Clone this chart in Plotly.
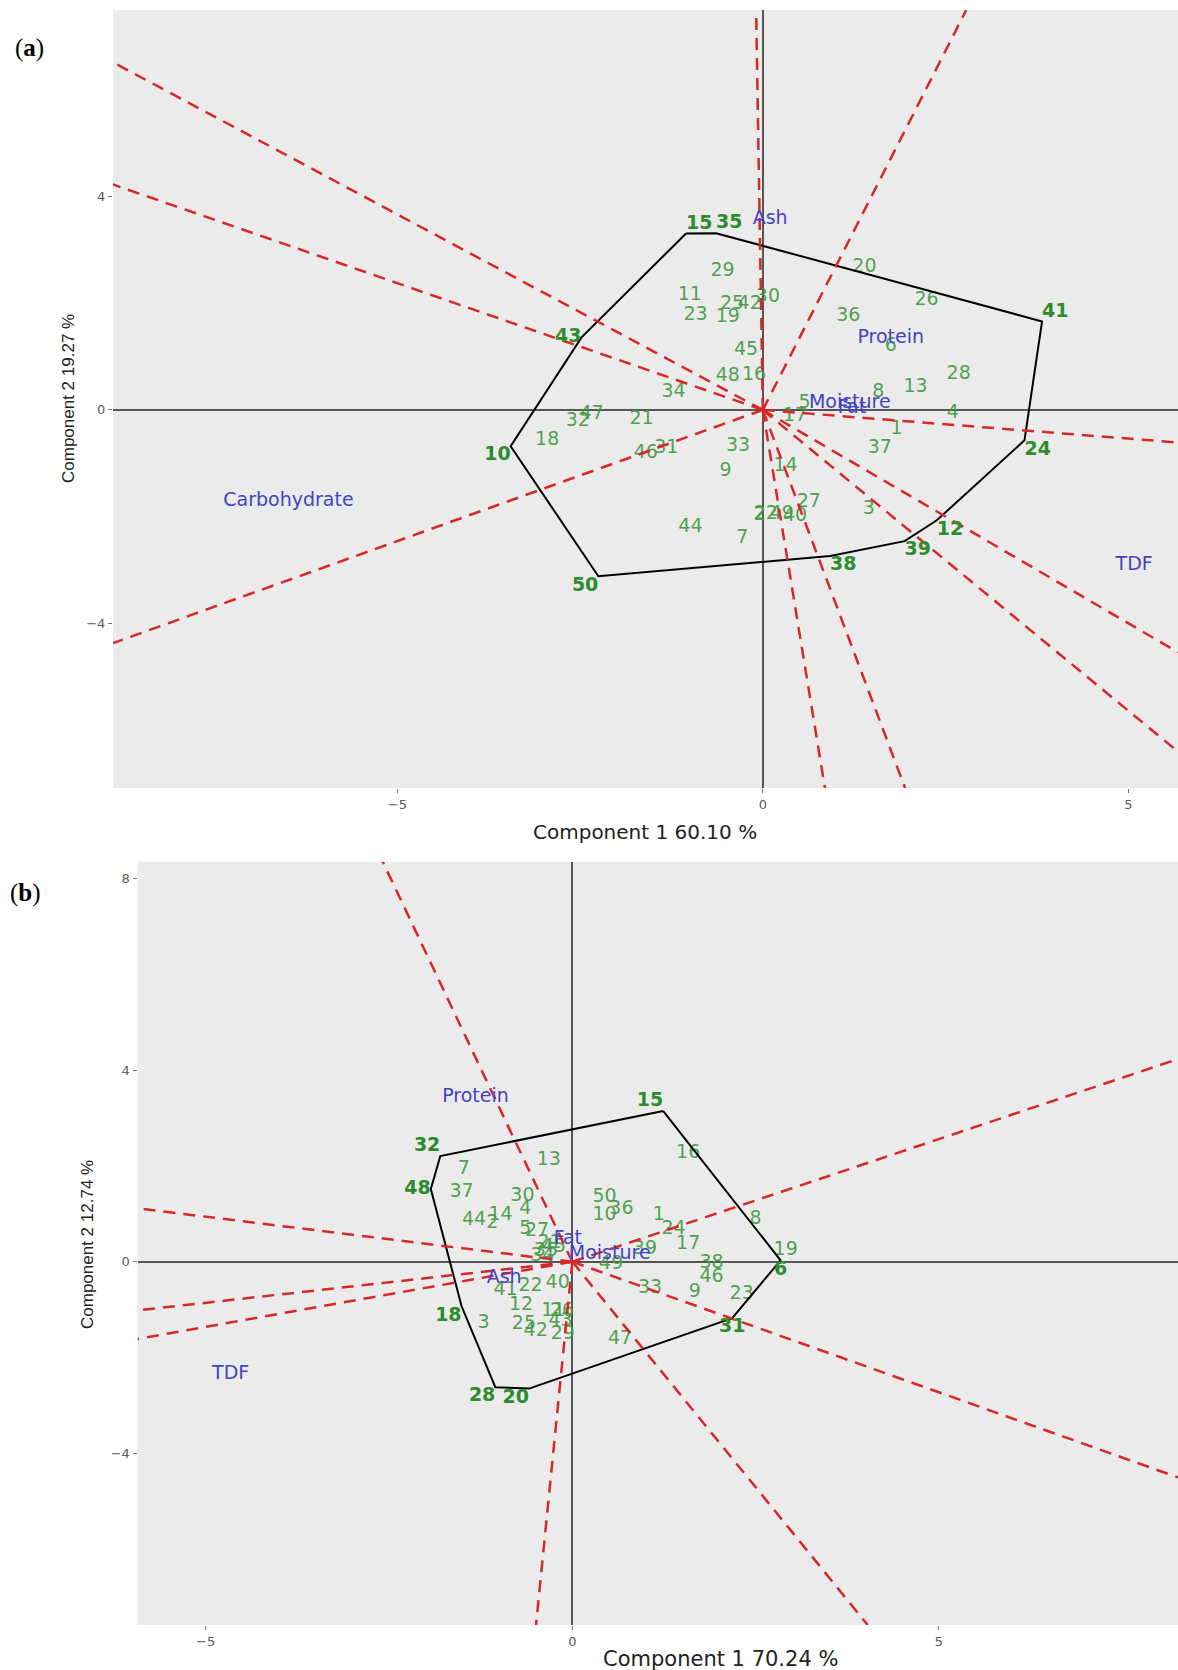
import numpy as np
import plotly.graph_objects as go

# ---------------- Panel (a) data ----------------
a_geno = [str(i) for i in range(1, 51)]
a_pc1 = [1.83, -0.04, 1.45, 2.60, 0.57, 1.75, -0.28, 1.58, -0.51, -3.45,
         -1.00, 2.38, 2.09, 0.31, -1.05, -0.12, 0.44, -2.95, -0.48, 1.39,
         -1.66, 0.04, -0.92, 3.58, -0.42, 2.24, 0.63, 2.68, -0.55, 0.07,
         -1.32, -2.53, -0.34, -1.22, -0.64, 1.17, 1.60, 0.92, 1.94, 0.44,
         3.82, -0.18, -2.48, -0.99, -0.23, -1.60, -2.34, -0.48, 0.26, -2.25]
a_pc2 = [-0.36, -1.97, -1.87, -0.07, 0.13, 1.20, -2.40, 0.34, -1.15, -0.68,
         2.16, -2.07, 0.43, -1.06, 3.31, 0.65, -0.12, -0.57, 1.73, 2.67,
         -0.18, -1.96, 1.77, -0.57, 1.98, 2.06, -1.74, 0.66, 2.61, 2.11,
         -0.71, -0.21, -0.69, 0.33, 3.315, 1.75, -0.71, -2.74, -2.46, -2.00,
         1.66, 1.98, 1.36, -2.20, 1.12, -0.82, -0.08, 0.63, -1.96, -3.12]
a_hull = ["15", "35", "41", "24", "12", "39", "38", "50", "10", "43"]
a_traits = ["Ash", "Protein", "Moisture", "Fat", "Carbohydrate", "TDF"]
a_trait_pc1 = [0.10, 1.75, 1.19, 1.22, -6.49, 5.08]
a_trait_pc2 = [3.58, 1.34, 0.13, 0.03, -1.72, -2.91]
a_xtitle = "Component 1 60.10 %"
a_ytitle = "Component 2 19.27 %"
a_xticks = [-5, 0, 5]
a_yticks = [-4, 0, 4]

# ---------------- Panel (b) data ----------------
b_geno = [str(i) for i in range(1, 51)]
b_pc1 = [1.18, -1.09, -1.21, -0.64, -0.64, 2.84, -1.48, 2.50, 1.67, 0.44,
         -0.26, -0.70, -0.32, -0.98, 1.24, 1.58, 1.58, -1.51, 2.91, -0.59,
         -0.31, -0.57, 2.31, 1.38, -0.66, -0.14, -0.48, -1.05, -0.13, -0.68,
         2.18, -1.80, 1.06, -0.41, -0.36, 0.67, -1.51, 1.90, 0.99, -0.20,
         -0.91, -0.50, -0.16, -1.34, -0.25, 1.90, 0.65, -1.93, 0.53, 0.44]
b_pc2 = [0.97, 0.81, -1.28, 1.09, 0.67, 0.03, 1.94, 0.88, -0.64, 0.97,
         -1.04, -0.90, 2.13, 0.97, 3.15, 2.26, 0.37, -0.93, 0.25, -2.65,
         0.39, -0.52, -0.67, 0.67, -1.30, -1.04, 0.63, -2.62, -1.52, 1.36,
         -1.18, 2.21, -0.55, 0.11, 0.22, 1.09, 1.45, -0.03, 0.27, -0.45,
         -0.59, -1.46, -1.25, 0.86, 0.30, -0.33, -1.61, 1.52, -0.06, 1.34]
b_hull = ["15", "6", "31", "20", "28", "18", "48", "32"]
b_traits = ["Protein", "Fat", "Moisture", "Ash", "TDF"]
b_trait_pc1 = [-1.32, -0.06, 0.51, -0.93, -4.66]
b_trait_pc2 = [3.43, 0.47, 0.15, -0.34, -2.36]
b_xtitle = "Component 1 70.24 %"
b_ytitle = "Component 2 12.74 %"
b_xticks = [-5, 0, 5]
b_yticks = [-4, 0, 4, 8]

# ---------------- style ----------------
W, H = 1178, 1670
BG = "#EBEBEB"
GREEN = "rgba(70,155,70,0.95)"
GREEN_B = "#2E8B2E"
BLUE = "#4343C6"
RED = "#D62828"
LABEL_FONT = "DejaVu Sans"

a_xrange = [-8.89, 5.68]
a_yrange = [-7.09, 7.50]
b_xrange = [-5.93, 8.26]
b_yrange = [-7.59, 8.36]

a_vpos = {"15": "top right", "35": "top right", "41": "top right", "24": "bottom right",
          "12": "bottom right", "39": "bottom right", "38": "bottom right",
          "50": "bottom left", "10": "bottom left", "43": "middle left"}
b_vpos = {"15": "top left", "6": "bottom center", "31": "bottom center", "20": "bottom left",
          "28": "bottom left", "18": "bottom left", "48": "middle left", "32": "top left"}


def rays(hx, hy, xr, yr):
    """Perpendiculars from the origin to every polygon side, extended to the panel edge."""
    out = []
    n = len(hx)
    for i in range(n):
        A = np.array([hx[i], hy[i]])
        B = np.array([hx[(i + 1) % n], hy[(i + 1) % n]])
        d = B - A
        t = -A.dot(d) / d.dot(d)
        F = A + t * d
        u = F / np.linalg.norm(F)
        s = []
        for comp, lo, hi in ((u[0], xr[0], xr[1]), (u[1], yr[0], yr[1])):
            if comp > 1e-12:
                s.append(hi / comp)
            elif comp < -1e-12:
                s.append(lo / comp)
        L = min(s)
        out.append((u[0] * L, u[1] * L))
    return out


fig = go.Figure()


def add_panel(geno, pc1, pc2, hull, vpos, traits, tx, ty, xr, yr, xa, ya):
    idx = {g: i for i, g in enumerate(geno)}
    hx = [pc1[idx[g]] for g in hull]
    hy = [pc2[idx[g]] for g in hull]
    normal = [i for i, g in enumerate(geno) if g not in hull]
    fig.add_trace(go.Scatter(
        x=[pc1[i] for i in normal], y=[pc2[i] for i in normal],
        text=[geno[i] for i in normal], mode="text", textposition="middle center",
        textfont=dict(family=LABEL_FONT, size=19, color=GREEN),
        xaxis=xa, yaxis=ya, showlegend=False, hoverinfo="skip"))
    fig.add_trace(go.Scatter(
        x=hx + [hx[0]], y=hy + [hy[0]], mode="lines",
        line=dict(color="black", width=2), xaxis=xa, yaxis=ya,
        showlegend=False, hoverinfo="skip"))
    for ex, ey in rays(hx, hy, xr, yr):
        fig.add_trace(go.Scatter(
            x=[0, ex], y=[0, ey], mode="lines",
            line=dict(color=RED, width=2.5, dash="12px,8px"),
            xaxis=xa, yaxis=ya, showlegend=False, hoverinfo="skip"))
    fig.add_trace(go.Scatter(
        x=hx, y=hy, text=[f"<b>{g}</b>" for g in hull], mode="text",
        textposition=[vpos[g] for g in hull],
        textfont=dict(family=LABEL_FONT, size=19, color=GREEN_B),
        xaxis=xa, yaxis=ya, showlegend=False, hoverinfo="skip"))
    fig.add_trace(go.Scatter(
        x=tx, y=ty, text=traits, mode="text", textposition="middle center",
        textfont=dict(family=LABEL_FONT, size=19, color=BLUE),
        xaxis=xa, yaxis=ya, showlegend=False, hoverinfo="skip"))


add_panel(a_geno, a_pc1, a_pc2, a_hull, a_vpos, a_traits, a_trait_pc1, a_trait_pc2,
          a_xrange, a_yrange, "x", "y")
add_panel(b_geno, b_pc1, b_pc2, b_hull, b_vpos, b_traits, b_trait_pc1, b_trait_pc2,
          b_xrange, b_yrange, "x2", "y2")

tickfont = dict(family=LABEL_FONT, size=13, color="#5a5a5a")
common = dict(showgrid=False, zeroline=True, zerolinecolor="#555555", zerolinewidth=2,
              ticks="outside", ticklen=4, tickcolor="#777777", tickwidth=1,
              tickfont=tickfont, showline=False, automargin=False)

fig.update_layout(
    width=W, height=H, margin=dict(l=0, r=0, t=0, b=0),
    paper_bgcolor="white", plot_bgcolor=BG,
    xaxis=dict(domain=[113 / W, 1], range=a_xrange, anchor="y", tickvals=a_xticks, **common),
    yaxis=dict(domain=[1 - 788 / H, 1 - 10 / H], range=a_yrange, anchor="x", tickvals=a_yticks, **common),
    xaxis2=dict(domain=[137.5 / W, 1], range=b_xrange, anchor="y2", tickvals=b_xticks, **common),
    yaxis2=dict(domain=[1 - 1625 / H, 1 - 861.7 / H], range=b_yrange, anchor="x2", tickvals=b_yticks, **common),
)

title_font = dict(family=LABEL_FONT, size=20, color="#222222")
ytitle_font = dict(family="Liberation Sans", size=17, color="#222222")
ann = [
    dict(text=a_xtitle, x=645 / W, y=1 - 832 / H, xref="paper", yref="paper",
         showarrow=False, font=title_font, xanchor="center", yanchor="middle"),
    dict(text=a_ytitle, x=68 / W, y=1 - 399 / H, xref="paper", yref="paper", textangle=-90,
         showarrow=False, font=ytitle_font, xanchor="center", yanchor="middle"),
    dict(text=b_xtitle, x=720 / W, y=1 - 1659 / H, xref="paper", yref="paper",
         showarrow=False, font=dict(family=LABEL_FONT, size=21, color="#222222"),
         xanchor="center", yanchor="middle"),
    dict(text=b_ytitle, x=87 / W, y=1 - 1245 / H, xref="paper", yref="paper", textangle=-90,
         showarrow=False, font=ytitle_font, xanchor="center", yanchor="middle"),
    dict(text="(<b>a</b>)", x=29 / W, y=1 - 48 / H, xref="paper", yref="paper",
         xanchor="center", yanchor="middle",
         showarrow=False, font=dict(family="Liberation Serif", size=25, color="black")),
    dict(text="(<b>b</b>)", x=25 / W, y=1 - 893 / H, xref="paper", yref="paper",
         xanchor="center", yanchor="middle",
         showarrow=False, font=dict(family="Liberation Serif", size=25, color="black")),
]
fig.update_layout(annotations=ann)

fig.write_html("out.html", config={"displayModeBar": False},
               post_script="document.body.style.margin='0px';document.body.style.overflow='hidden';")
